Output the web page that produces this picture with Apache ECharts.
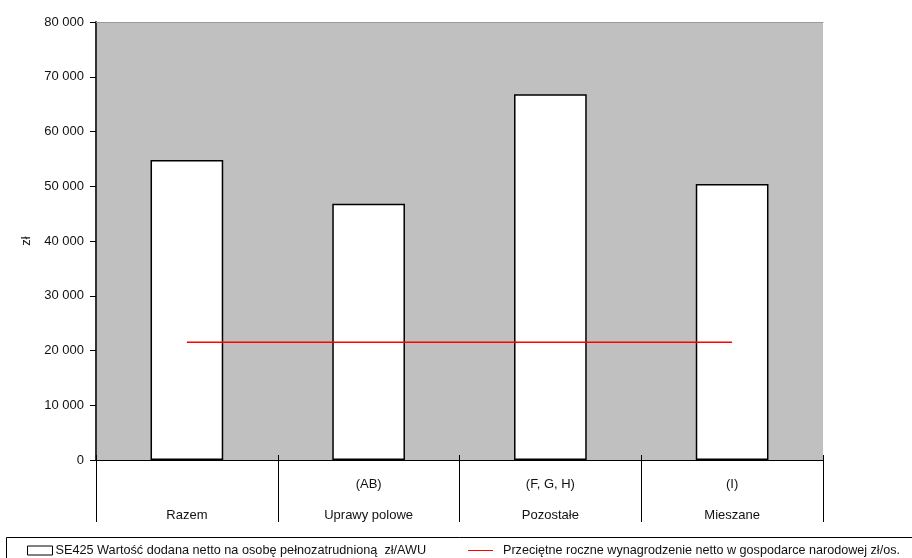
<!DOCTYPE html>
<html><head><meta charset="utf-8">
<script src="https://cdn.jsdelivr.net/npm/echarts@6/dist/echarts.min.js"></script>
<style>html,body{margin:0;padding:0;background:#fff}#c{width:912px;height:558px}</style>
</head><body><div id="c"></div>
<script>
var categories = ['\nRazem', '(AB)\nUprawy polowe', '(F, G, H)\nPozostałe', '(I)\nMieszane'];
var barValues = [54800, 46800, 66800, 50400];
var wageValues = [21500, 21500, 21500, 21500];
var barName = 'SE425 Wartość dodana netto na osobę pełnozatrudnioną  zł/AWU';
var lineName = 'Przeciętne roczne wynagrodzenie netto w gospodarce narodowej zł/os.';
var yMin = 0, yMax = 80000, yStep = 10000;
var FONT = '"Liberation Sans", Arial, sans-serif';

var chart = echarts.init(document.getElementById('c'));
chart.setOption({
  animation: false,
  backgroundColor: '#fff',
  textStyle: {fontFamily: FONT},
  grid: {left: 96, right: 89, top: 22, bottom: 98, show: true, backgroundColor: '#c0c0c0', borderWidth: 0},
  graphic: [{type: 'rect', left: 4, top: 535, shape: {width: 920, height: 30}, style: {fill: 'none', stroke: '#000', lineWidth: 1}, z: -1}],
  legend: [
    {data: [{name: barName, icon: 'rect', itemStyle: {color: '#fff', borderColor: '#000', borderWidth: 1}}],
     left: 22, top: 539, itemWidth: 25, itemHeight: 9, itemGap: 2,
     textStyle: {fontSize: 12.7, color: '#111', fontFamily: FONT, padding: [0,0,0,-2]}},
    {data: [{name: lineName, icon: 'rect', itemStyle: {color: '#ff0000'}}],
     left: 463, top: 539, itemWidth: 25, itemHeight: 1, itemGap: 2,
     textStyle: {fontSize: 12.6, color: '#111', fontFamily: FONT, padding: [0,0,0,5]}}
  ],
  xAxis: [
    {type: 'category', data: categories, position: 'bottom',
     axisLine: {show: true, lineStyle: {color: '#000', width: 1}},
     axisTick: {show: true, interval: 0, length: 62, lineStyle: {color: '#000'}},
     axisLabel: {interval: 0, fontSize: 13, color: '#111', lineHeight: 31, margin: 9, fontFamily: FONT}},
    {type: 'category', data: categories, position: 'bottom',
     axisLine: {show: false},
     axisTick: {show: true, inside: true, interval: 0, length: 5, lineStyle: {color: '#000'}},
     axisLabel: {show: false}},
    {type: 'category', data: categories, position: 'top',
     axisLine: {show: true, lineStyle: {color: '#9a9a9a', width: 1}},
     axisTick: {show: false}, axisLabel: {show: false}}
  ],
  yAxis: {
    type: 'value', min: yMin, max: yMax, interval: yStep,
    name: 'zł', nameLocation: 'middle', nameGap: 61, nameRotate: 90,
    nameTextStyle: {fontSize: 13, color: '#111', fontFamily: FONT},
    axisLine: {show: true, lineStyle: {color: '#333', width: 2}},
    axisTick: {show: true, length: 6, lineStyle: {color: '#000'}},
    splitLine: {show: false},
    axisLabel: {fontSize: 13, color: '#111', margin: 12, fontFamily: FONT,
      formatter: function (v) { return String(v).replace(/\B(?=(\d{3})+(?!\d))/g, ' '); }}
  },
  series: [
    {name: barName, type: 'bar', data: barValues, barWidth: '40%',
     itemStyle: {color: '#fff', borderColor: '#000', borderWidth: 1.5}},
    {name: lineName, type: 'line', data: wageValues, symbol: 'none',
     lineStyle: {color: '#ff0000', width: 1.5}, itemStyle: {color: '#ff0000'}, z: 5}
  ]
});
</script></body></html>
